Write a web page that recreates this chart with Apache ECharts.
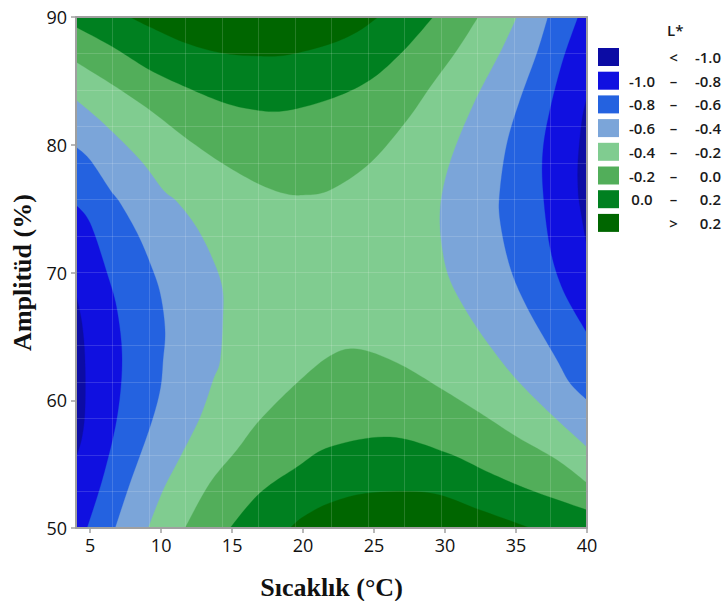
<!DOCTYPE html>
<html><head><meta charset="utf-8">
<script src="https://cdn.jsdelivr.net/npm/echarts@6/dist/echarts.min.js"></script>
<style>html,body{margin:0;padding:0;background:#fff}#c{width:725px;height:601px}</style>
</head><body><div id="c"></div>
<script>
// ---- axis limits & ticks ----
const X_MIN = 4, X_MAX = 40, Y_MIN = 50, Y_MAX = 90;
const xTickValues = [5, 10, 15, 20, 25, 30, 35, 40];
const yTickValues = [50, 60, 70, 80, 90];
const xTitle = 'Sıcaklık (°C)';
const yTitle = 'Amplitüd (%)';
const legendTitle = 'L*';

// ---- legend bands (low -> high) ----
const bandNames = ['< -1.0', '-1.0 – -0.8', '-0.8 – -0.6', '-0.6 – -0.4', '-0.4 – -0.2', '-0.2 – 0.0', '0.0 – 0.2', '> 0.2'];
const bandParts = [['', '<', '-1.0'], ['-1.0', '–', '-0.8'], ['-0.8', '–', '-0.6'], ['-0.6', '–', '-0.4'],
                   ['-0.4', '–', '-0.2'], ['-0.2', '–', '0.0'], ['0.0', '–', '0.2'], ['', '>', '0.2']];
const bandColors = ['#0c0ca4', '#1010e0', '#2462e0', '#7ba5d9', '#80cc90', '#52ae5a', '#008020', '#006600'];

// ---- contour lines: [Sıcaklık, Amplitüd] ----
// upper (green) side
const top02  = [[7.80,90],[9.21,89.22],[11.75,87.96],[14.29,87.18],[16.82,86.95],[18.87,87.03],[21.89,87.89],[23.80,88.83],[25.28,90]];
const top00  = [[4,89.22],[6.61,87.65],[9.21,85.85],[11.75,84.52],[14.29,83.35],[16.26,82.80],[18.58,82.64],[21.89,83.58],[24.71,85.07],[27.04,87.34],[29.15,90]];
const topM02 = [[4,86.48],[6.61,84.68],[9.21,82.72],[11.75,80.53],[14.29,78.57],[16.75,77.01],[18.58,76.22],[19.99,76.07],[21.89,76.46],[24.71,78.57],[27.32,81.94],[28.94,84.52],[30.84,87.42],[32.32,90]];
// lower (green) side
const botM02 = [[11.68,50],[13.44,53.52],[15.34,56.11],[16.96,58.45],[19.57,61.35],[21.89,63.46],[23.80,64.01],[26.62,62.92],[29.86,60.80],[32.46,59.00],[35.07,57.12],[37.89,55.32],[40,53.52]];
const bot00  = [[14.85,50],[16.96,52.74],[19.57,54.77],[21.89,56.34],[26.12,57.12],[30.14,55.87],[33.17,54.30],[35.99,52.97],[40,51.41]];
const bot02  = [[19.08,50],[19.99,50.86],[21.89,51.96],[24.71,52.74],[28.94,52.74],[32.46,51.41],[35.99,50]];
// left (blue) side
const leftM04 = [[4,83.50],[5.90,81.70],[8.51,78.81],[10.13,76.46],[11.12,75.52],[12.52,73.48],[13.65,70.98],[14.29,68.86],[14.36,66.83],[14.15,63.15],[13.65,61.59],[12.74,58.69],[11.33,55.56],[10.13,52.97],[9.07,50]];
const leftM06 = [[4,79.82],[4.99,78.81],[6.40,76.46],[7.10,75.44],[8.30,73.09],[9.21,70.74],[9.92,68.40],[10.27,65.50],[10.13,63.15],[9.92,60.80],[9.21,57.91],[7.80,53.52],[6.75,50]];
const leftM08 = [[4,75.28],[4.99,73.87],[6.18,69.96],[6.89,67.06],[7.24,63.15],[6.89,58.69],[5.90,53.99],[4.77,50]];
const leftM10 = [[4,68.3],[4.42,66.0],[4.63,63.15],[4.63,59.24],[4.4,57.0],[4,55.56]];
// right (blue) side
const rightM04 = [[35.07,90],[33.87,87.18],[32.25,83.74],[30.84,80.14],[30.00,77.24],[29.64,74.66],[29.79,72.00],[30.35,69.41],[31.76,66.52],[33.38,63.93],[35.07,61.59],[37.39,59.00],[40,56.34]];
const rightM06 = [[37.25,90],[36.48,87.18],[35.28,83.50],[34.37,80.14],[33.87,76.46],[33.87,74.11],[34.58,70.43],[35.77,67.30],[37.89,63.15],[38.80,61.35],[40,60.02]];
const rightM08 = [[39.37,90],[38.31,86.63],[37.39,82.72],[36.90,79.59],[36.90,76.46],[37.39,72.00],[38.31,68.63],[40,65.26]];
const rightM10 = [[40,83.74],[39.65,81.94],[39.37,78.81],[39.37,76.46],[39.51,75.13],[40,72.00]];

// regions: a band paints every area above (greens) / below (blues) its lower/upper level
const TL = [X_MIN, Y_MAX], TR = [X_MAX, Y_MAX], BL = [X_MIN, Y_MIN], BR = [X_MAX, Y_MIN];
const regions = [
  [ {curve: leftM10, close: []}, {curve: rightM10, close: []} ],
  [ {curve: leftM08, close: [BL]}, {curve: rightM08, close: [TR]} ],
  [ {curve: leftM06, close: [BL]}, {curve: rightM06, close: [TR]} ],
  [ {curve: leftM04, close: [BL]}, {curve: rightM04, close: [TR]} ],
  [ {curve: [], close: [BL, BR, TR, TL]} ],
  [ {curve: topM02, close: [TL]}, {curve: botM02, close: [BR]} ],
  [ {curve: top00, close: [TL]}, {curve: bot00, close: [BR]} ],
  [ {curve: top02, close: []}, {curve: bot02, close: []} ]
];
const drawOrder = [4, 5, 6, 7, 3, 2, 1, 0];

function spline(pts, n) {
  if (pts.length < 3) return pts.slice();
  const out = [pts[0]];
  for (let i = 0; i < pts.length - 1; i++) {
    const p0 = pts[Math.max(i - 1, 0)], p1 = pts[i], p2 = pts[i + 1], p3 = pts[Math.min(i + 2, pts.length - 1)];
    const c1 = [p1[0] + (p2[0] - p0[0]) / 6, p1[1] + (p2[1] - p0[1]) / 6];
    const c2 = [p2[0] - (p3[0] - p1[0]) / 6, p2[1] - (p3[1] - p1[1]) / 6];
    for (let k = 1; k <= n; k++) {
      const t = k / n, u = 1 - t;
      out.push([u*u*u*p1[0] + 3*u*u*t*c1[0] + 3*u*t*t*c2[0] + t*t*t*p2[0],
                u*u*u*p1[1] + 3*u*u*t*c1[1] + 3*u*t*t*c2[1] + t*t*t*p2[1]]);
    }
  }
  return out;
}

const FONT = "'Open Sans', 'Noto Sans', sans-serif";
const SERIF = "'Liberation Serif', 'Times New Roman', serif";
const series = drawOrder.map((bi, order) => {
  const polys = regions[bi];
  return {
    type: 'custom', name: bandNames[bi], coordinateSystem: 'cartesian2d',
    xAxisIndex: 0, yAxisIndex: 0, clip: true, silent: true, z: 2 + order * 0.01,
    itemStyle: { color: bandColors[bi] },
    data: polys.map((p, i) => { const f = p.curve.length ? p.curve[0] : p.close[0]; return [f[0], f[1], i]; }),
    renderItem: function (params, api) {
      const poly = polys[params.dataIndex];
      const pts = spline(poly.curve.map(p => api.coord(p)), 10).concat(poly.close.map(p => api.coord(p)));
      return { type: 'polygon', shape: { points: pts }, style: { fill: api.visual('color'), stroke: api.visual('color'), lineWidth: 0.3 } };
    }
  };
});

const chart = echarts.init(document.getElementById('c'), null, { renderer: 'svg' });
const axisGray = '#a0a0a0';
const legText = { fontFamily: FONT, fontSize: 15, fontWeight: 600, color: '#1a1a1a', lineHeight: 18 };
chart.setOption({
  animation: false,
  backgroundColor: '#ffffff',
  title: { text: legendTitle, left: 667, top: 22, padding: 0,
           textStyle: { fontFamily: FONT, fontSize: 15, fontWeight: 600, color: '#1a1a1a' } },
  legend: {
    orient: 'vertical', left: 598, top: 48, padding: 0, itemWidth: 21, itemHeight: 18, itemGap: 5.7,
    selectedMode: false, icon: 'rect',
    data: bandNames,
    formatter: function (name) {
      const p = bandParts[bandNames.indexOf(name)];
      return '{a|' + (p[0] || ' ') + '}{b|' + p[1] + '}{c|' + p[2] + '}';
    },
    textStyle: Object.assign({}, legText, {
      rich: {
        a: Object.assign({ width: 36, align: 'right' }, legText),
        b: Object.assign({ width: 27, align: 'center' }, legText),
        c: Object.assign({ width: 34, align: 'right' }, legText)
      }
    })
  },
  grid: { left: 76, top: 17, width: 511, height: 511, containLabel: false, outerBoundsMode: 'none' },
  xAxis: [
    { type: 'value', min: X_MIN, max: X_MAX, z: 10,
      name: xTitle, nameLocation: 'middle', nameGap: 46,
      nameTextStyle: { fontFamily: SERIF, fontSize: 26, fontWeight: 'bold', color: '#111' },
      axisLine: { show: true, lineStyle: { color: axisGray, width: 2 } },
      axisTick: { show: true, length: 5, customValues: xTickValues, lineStyle: { color: axisGray, width: 1.5 } },
      axisLabel: { customValues: xTickValues, margin: 8, fontFamily: FONT, fontSize: 18, fontWeight: 500, color: '#111' },
      splitLine: { show: false } },
    { type: 'value', min: 0, max: 14, interval: 1, position: 'top', z: 10,
      axisLine: { show: true, onZero: false, lineStyle: { color: axisGray, width: 2 } },
      axisTick: { show: false }, axisLabel: { show: false },
      splitLine: { show: true, lineStyle: { color: 'rgba(255,255,255,0.15)', width: 1 } } }
  ],
  yAxis: [
    { type: 'value', min: Y_MIN, max: Y_MAX, interval: 10, z: 10,
      name: yTitle, nameLocation: 'middle', nameGap: 38, nameRotate: 90,
      nameTextStyle: { fontFamily: SERIF, fontSize: 26, fontWeight: 'bold', color: '#111' },
      axisLine: { show: true, lineStyle: { color: axisGray, width: 2 } },
      axisTick: { show: true, length: 5, lineStyle: { color: axisGray, width: 1.5 } },
      axisLabel: { margin: 9, fontFamily: FONT, fontSize: 18, fontWeight: 500, color: '#111' },
      splitLine: { show: false } },
    { type: 'value', min: 0, max: 14, interval: 1, position: 'right', z: 10,
      axisLine: { show: true, onZero: false, lineStyle: { color: axisGray, width: 2 } },
      axisTick: { show: false }, axisLabel: { show: false },
      splitLine: { show: true, lineStyle: { color: 'rgba(255,255,255,0.15)', width: 1 } } }
  ],
  series: series
});
</script></body></html>
